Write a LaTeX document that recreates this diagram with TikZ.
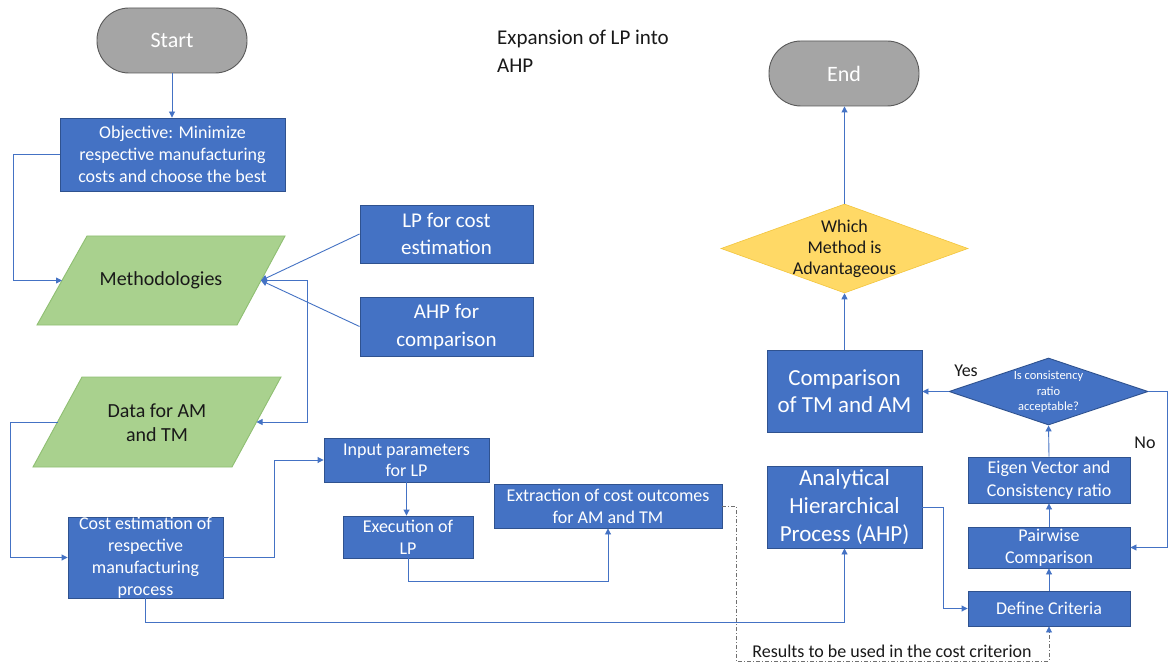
\documentclass[tikz,border=0pt]{standalone}
\usepackage{fontspec}
\setmainfont{Carlito}
\usetikzlibrary{arrows.meta,shapes.geometric,calc}
\definecolor{bfill}{HTML}{4472C4}
\definecolor{bdraw}{HTML}{2F528F}
\definecolor{gfill}{HTML}{A5A5A5}
\definecolor{gdraw}{HTML}{595959}
\definecolor{grfill}{HTML}{A9D18E}
\definecolor{grdraw}{HTML}{8FBF72}
\definecolor{yfill}{HTML}{FFD966}
\definecolor{ydraw}{HTML}{F2C53D}
\definecolor{cline}{HTML}{4472C4}
\definecolor{dline}{HTML}{707070}
\newcommand{\fs}[2]{\fontsize{#1}{#2}\selectfont}
\begin{document}
\begin{tikzpicture}[x=1pt,y=-1pt,
  bluebox/.style={draw=bdraw,fill=bfill,line width=0.9pt,inner sep=0pt,text=white,align=center},
  term/.style={draw=gdraw,fill=gfill,line width=0.9pt,rounded corners=32pt,inner sep=0pt,text=white,font=\fs{22}{26},minimum width=150pt,minimum height=65pt},
  para/.style={draw=grdraw,fill=grfill,line width=0.9pt},
  wtxt/.style={text=white,align=center,inner sep=0pt},
  btxt/.style={text=black!90,align=center,inner sep=0pt},
  conn/.style={draw=cline,line width=0.9pt,-{Triangle[length=6pt,width=6pt]}},
  dconn/.style={draw=dline,line width=0.7pt,dash pattern=on 4pt off 2pt on 1pt off 2pt,-{Triangle[length=6pt,width=6pt,color=cline,fill=cline]}}
]
\useasboundingbox[fill=white] (0,0) rectangle (1169,668);

% title
\node[btxt,font=\fs{21}{28},align=left,anchor=west] (title) at (497,51) {Expansion of LP into\\AHP};

% terminals
\node[term] (start) at (172,40.5) {Start};
\node[term] (end) at (844,73.5) {End};

% objective
\node[bluebox,font=\fs{18}{22},minimum width=225pt,minimum height=73pt] (obj) at (172.5,154.5)
  {Objective: Minimize\\respective manufacturing\\costs and choose the best};

% parallelograms
\draw[para] (87,236) -- (285,236) -- (237,325) -- (37,325) -- cycle;
\node[btxt,font=\fs{20}{24}] (meth) at (161,280.5) {Methodologies};
\coordinate (methL) at (62,280.5);
\coordinate (methR) at (261,280.5);

\draw[para] (82,377) -- (281,377) -- (232,467) -- (33,467) -- cycle;
\node[btxt,font=\fs{20}{24}] (data) at (157,423) {Data for AM\\and TM};
\coordinate (dataL) at (57.5,422);
\coordinate (dataR) at (256.5,422);

% LP / AHP boxes
\node[bluebox,font=\fs{21}{27},minimum width=173pt,minimum height=58pt] (lp) at (446.5,234) {LP for cost\\estimation};
\node[bluebox,font=\fs{21}{28},minimum width=173pt,minimum height=59pt] (ahpc) at (446.5,326.5) {AHP for\\comparison};

% cost estimation
\node[bluebox,minimum width=155pt,minimum height=81pt] (cost) at (145.5,557.5) {};
\node[wtxt,font=\fs{18}{22}] (costT) at (145.5,558) {Cost estimation of\\respective\\manufacturing\\process};

\node[bluebox,font=\fs{18}{21},minimum width=165pt,minimum height=44pt] (inp) at (406.5,460) {Input parameters\\for LP};
\node[bluebox,font=\fs{18}{22},minimum width=130pt,minimum height=42pt] (exe) at (408,537) {Execution of\\LP};
\node[bluebox,font=\fs{18}{22},minimum width=228pt,minimum height=44pt] (ext) at (608,506) {Extraction of cost outcomes\\for AM and TM};

% AHP side
\node[bluebox,font=\fs{23}{28},minimum width=155pt,minimum height=82pt] (ahp) at (844.5,507) {Analytical\\Hierarchical\\Process (AHP)};
\node[bluebox,font=\fs{23}{27},minimum width=155pt,minimum height=82pt] (cmp) at (844.5,391) {Comparison\\of TM and AM};
\node[bluebox,font=\fs{18}{22},minimum width=162pt,minimum height=35pt] (def) at (1049,608.5) {Define Criteria};
\node[bluebox,font=\fs{18}{22},minimum width=162pt,minimum height=41pt] (pair) at (1049,547.5) {Pairwise\\Comparison};
\node[bluebox,font=\fs{18}{23},minimum width=162pt,minimum height=46pt] (eig) at (1049,480) {Eigen Vector and\\Consistency ratio};

% diamonds
\node[diamond,draw=bdraw,fill=bfill,line width=0.9pt,inner sep=0pt,minimum width=199pt,minimum height=67pt] (cons) at (1048.5,391.5) {};
\node[wtxt,font=\fs{12.5}{15.5}] (consT) at (1048.5,392) {Is consistency\\ratio\\acceptable?};
\node[diamond,draw=ydraw,fill=yfill,line width=0.6pt,inner sep=0pt,minimum width=247pt,minimum height=89pt] (wd) at (844.5,248.5) {};
\node[btxt,font=\fs{18}{21}] (wdT) at (844.5,248.5) {Which\\Method is\\Advantageous};

% labels
\node[btxt,font=\fs{18}{22}] (yes) at (966,371) {Yes};
\node[btxt,font=\fs{18}{22}] (no) at (1145,443) {No};
\node[btxt,font=\fs{18}{22}] (res) at (892,651) {Results to be used in the cost criterion};

% connectors
\draw[conn] (start.south) -- (start.south |- obj.north);
\draw[conn] (obj.west) -- ++(-46,0) |- (methL);
\draw[conn] (lp.west) -- (methR);
\draw[conn] (ahpc.west) -- (methR);
\draw[conn] (methR) -- ++(46,0) |- (dataR);
\draw[conn] (dataL) -- ++(-47.5,0) |- (cost.west);
\draw[conn] (cost.east) -- ++(51,0) |- (inp.west);
\draw[conn] (inp.south) -- (inp.south |- exe.north);
\draw[conn] (exe.south) -- ++(0,23) -| (ext.south);
\draw[conn] (cost.south) -- ++(0,24) -| (ahp.south);
\coordinate (rc) at (1049,661);
\draw[dconn] (ext.east) -- ++(14,0) |- (rc) -- (def.south);
\draw[conn] (ahp.east) -- ++(21,0) |- (def.west);
\draw[conn] (def.north) -- (pair.south);
\draw[conn] (pair.north) -- (eig.south);
\draw[conn] (eig.north) -- (cons.south);
\draw[conn] (cons.west) -- (cons.west -| cmp.east);
\draw[conn] (cons.east) -- ++(19,0) |- (pair.east);
\draw[conn] (cmp.north) -- (wd.south);
\draw[conn] (wd.north) -- (wd.north |- end.south);
\end{tikzpicture}
\end{document}
